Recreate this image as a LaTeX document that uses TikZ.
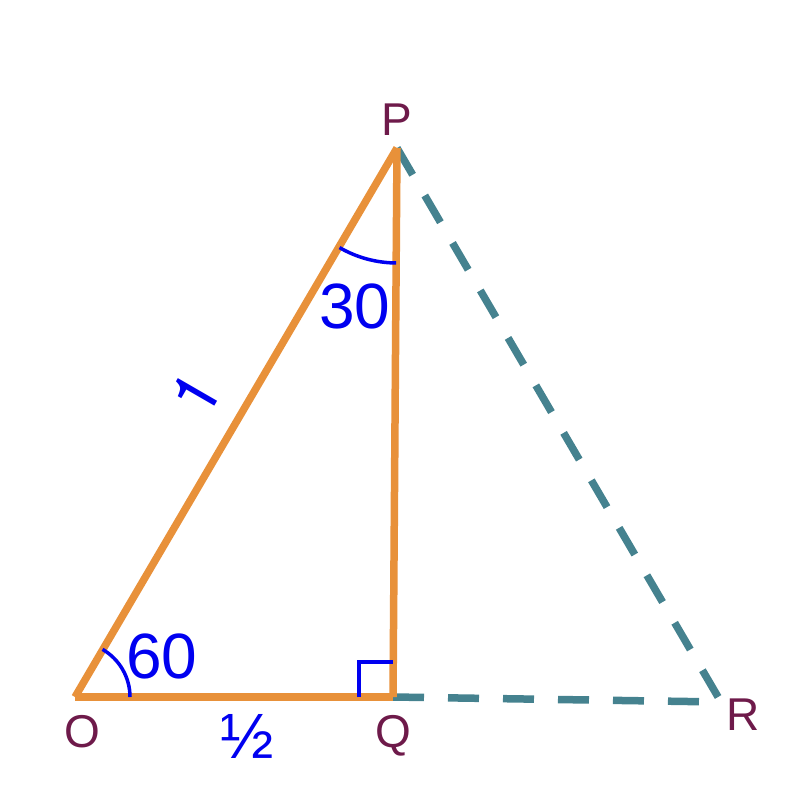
\documentclass[tikz,border=0pt]{standalone}
\usepackage{fontspec}
\setmainfont{Liberation Sans}
\newfontfamily\herosfont{TeX Gyre Heros}
\usetikzlibrary{calc}
\definecolor{edgeorange}{RGB}{232,145,58}
\definecolor{dashteal}{RGB}{69,130,143}
\definecolor{ptpurple}{RGB}{110,26,74}
\definecolor{markblue}{RGB}{0,0,240}
\tikzset{
  side/.style={draw=edgeorange, line width=7.5pt},
  dashside/.style={draw=dashteal, line width=7.5pt, dash pattern=on 31pt off 24pt},
  anglemark/.style={draw=markblue, line width=3.5pt},
  ptlabel/.style={text=ptpurple, font=\fontsize{46}{50}\selectfont, anchor=base, inner sep=0pt},
  numlabel/.style={text=markblue, font=\fontsize{64}{70}\selectfont, anchor=base, inner sep=0pt}
}
\begin{document}
\begin{tikzpicture}[x=1pt,y=1pt]
\useasboundingbox (0,0) rectangle (800,-800);
\coordinate (O) at (75,-697);
\coordinate (Q) at (393,-697);
\coordinate (P) at (397,-148);
\coordinate (R) at (721,-702);
% dashed sides
\draw[dashside] (P) -- (R);
\draw[dashside] (Q) -- (R);
% triangle
\draw[side] (O) -- (P);
\draw[side] (P) -- (Q);
\draw[side] (O) -- (Q);
% angle marks
\draw[anglemark] ($(O)+(0:55)$) arc[start angle=0, end angle=60, radius=55];
\draw[anglemark] ($(P)+(240:115)$) arc[start angle=240, end angle=269.6, radius=115];
\draw[anglemark] ($(Q)+(-34,0)$) -- ++(0,35) -- ++(34,0);
% labels
\node[ptlabel] (lP) at (397,-135) {P};
\node[ptlabel] (lO) at (82,-747) {O};
\node[ptlabel] (lQ) at (393,-747) {Q};
\node[ptlabel] (lR) at (743,-730) {R};
\node[numlabel] (l60) at (162,-678) {60};
\node[numlabel] (l30) at (355,-328) {30};
\node[numlabel] (lhalf) at (247,-758) {½};
\node[numlabel, anchor=center, rotate=60, font=\herosfont\fontsize{64}{70}\selectfont] (lone) at (196,-394) {1};
\end{tikzpicture}
\end{document}
